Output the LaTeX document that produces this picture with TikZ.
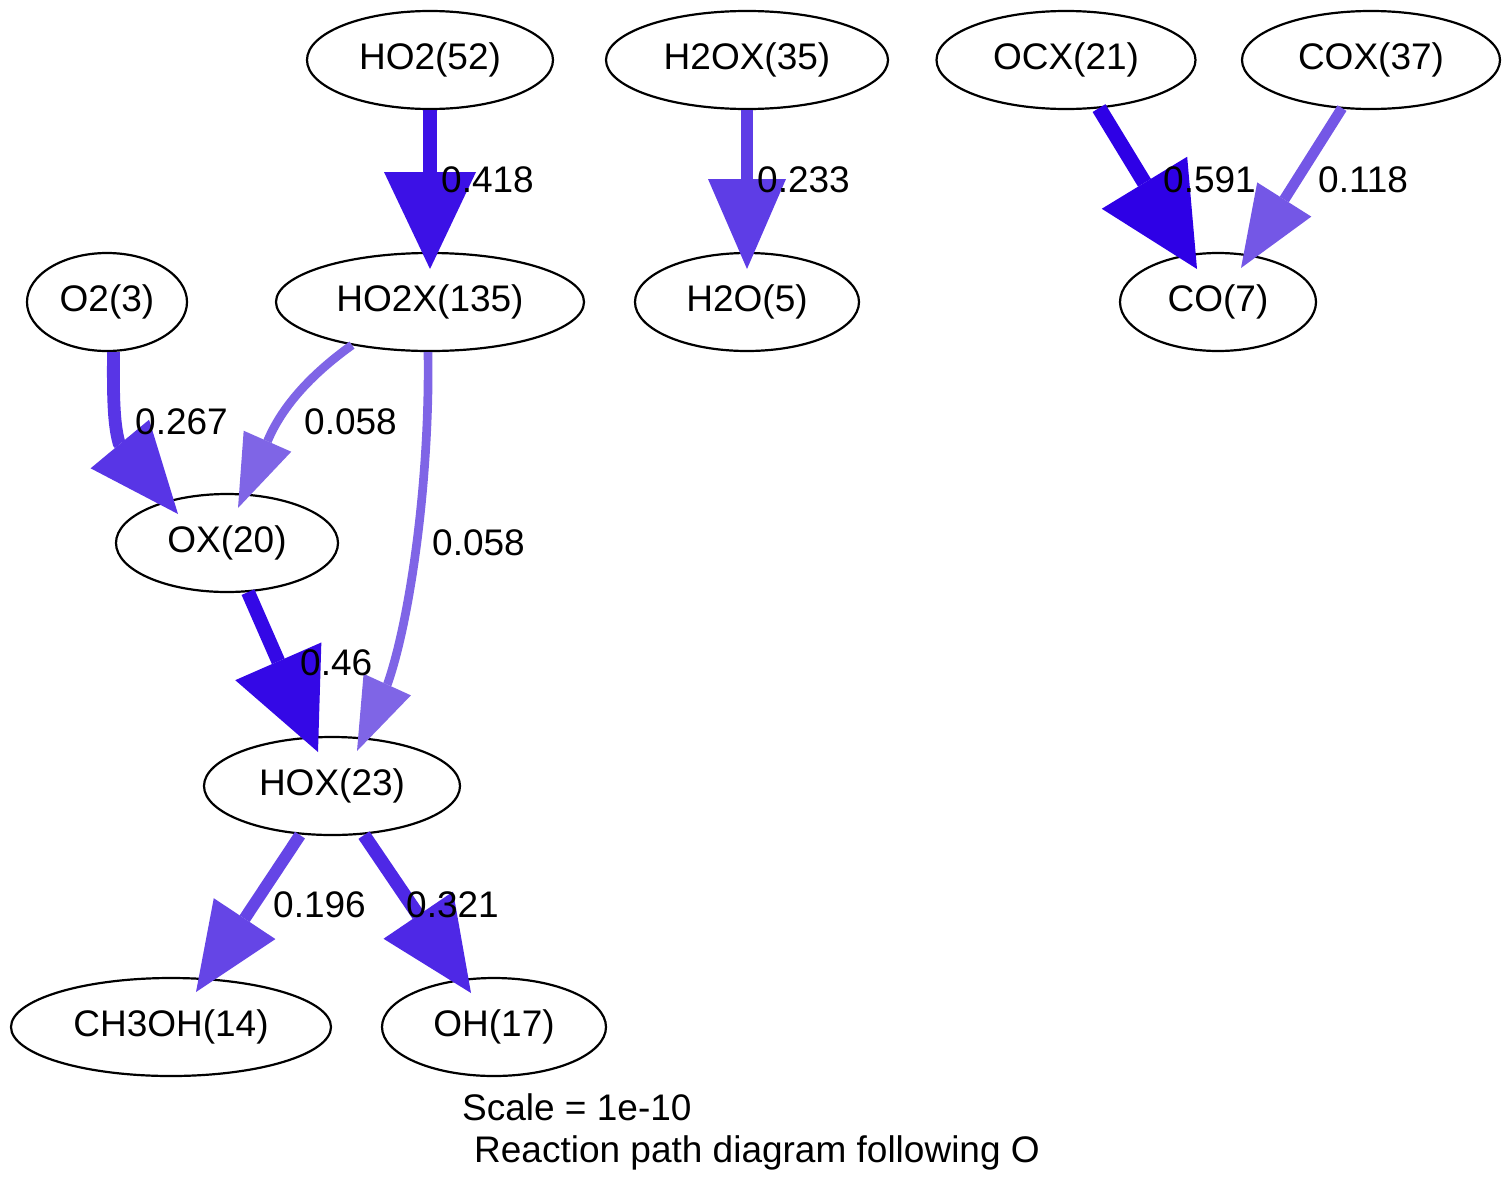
\documentclass[tikz,border=0pt]{standalone}
\usepackage{fontspec}
\setmainfont{Liberation Sans}
\usetikzlibrary{arrows.meta,shapes.geometric}
\definecolor{cA}{RGB}{46,0,230}
\definecolor{cB}{RGB}{52,8,230}
\definecolor{cC}{RGB}{60,17,230}
\definecolor{cD}{RGB}{78,40,230}
\definecolor{cE}{RGB}{88,53,230}
\definecolor{cF}{RGB}{94,61,230}
\definecolor{cG}{RGB}{101,69,230}
\definecolor{cH}{RGB}{116,87,230}
\definecolor{cI}{RGB}{127,101,230}
\begin{document}
\begin{tikzpicture}[x=1pt,y=-1pt,
  nd/.style={draw, ellipse, line width=2.2pt, minimum height=98pt, inner sep=0pt, font=\fontsize{37}{44}\selectfont},
  lbl/.style={anchor=west, inner sep=0pt, font=\fontsize{37}{44}\selectfont},
  flux/.style={line cap=butt}]
\useasboundingbox (0,0) rectangle (1511,1194);
% nodes
\node[nd, minimum width=246pt] (ho2)  at (430,60)  {HO2(52)};
\node[nd, minimum width=282pt] (h2ox) at (747,60)  {H2OX(35)};
\node[nd, minimum width=259pt] (ocx)  at (1066,60) {OCX(21)};
\node[nd, minimum width=258pt] (cox)  at (1371,60) {COX(37)};
\node[nd, minimum width=160pt] (o2)   at (107,302) {O2(3)};
\node[nd, minimum width=308pt] (ho2x) at (430,302) {HO2X(135)};
\node[nd, minimum width=224pt] (h2o)  at (747,302) {H2O(5)};
\node[nd, minimum width=196pt] (co)   at (1218,302) {CO(7)};
\node[nd, minimum width=222pt] (ox)   at (227,543) {OX(20)};
\node[nd, minimum width=256pt] (hox)  at (332,786) {HOX(23)};
\node[nd, minimum width=320pt] (ch3oh) at (171,1027) {CH3OH(14)};
\node[nd, minimum width=224pt] (oh)   at (494,1027) {OH(17)};
% edges
\draw[flux, cC, line width=14pt, -{Triangle[length=97pt,width=92pt,line width=0pt]}]
  (ho2.south) -- ([yshift=33pt]ho2x.center);
\draw[flux, cF, line width=12.5pt, -{Triangle[length=90pt,width=78pt,line width=0pt]}]
  (h2ox.south) -- ([yshift=33pt]h2o.center);
\draw[flux, cA, line width=15pt, -{Triangle[length=101pt,width=100pt,line width=0pt]}]
  ([xshift=33pt,yshift=2pt]ocx.south) -- ([xshift=-21pt,yshift=33pt]co.center);
\draw[flux, cH, line width=10.6pt, -{Triangle[length=81pt,width=64pt,line width=0pt]}]
  ([xshift=-29pt,yshift=2pt]cox.south) -- ([xshift=23pt,yshift=34pt]co.center);
\draw[flux, cE, line width=12.8pt, -{Triangle[length=91pt,width=76pt,line width=0pt]}]
  ([xshift=6.5pt]o2.south) .. controls (113,400) and (114,425) .. (119,443)
  -- ([xshift=-49pt,yshift=29pt]ox.center);
\draw[flux, cI, line width=8.7pt, -{Triangle[length=73pt,width=52pt,line width=0pt]}]
  ([xshift=-78pt,yshift=7pt]ho2x.south) .. controls (320,368) and (285,400) .. (268,440)
  -- ([xshift=11pt,yshift=35pt]ox.center);
\draw[flux, cI, line width=8.7pt, -{Triangle[length=73pt,width=52pt,line width=0pt]}]
  ([xshift=-2pt]ho2x.south) .. controls (430,480) and (410,620) .. (387.5,684)
  -- ([xshift=25pt,yshift=35pt]hox.center);
\draw[flux, cB, line width=14pt, -{Triangle[length=99pt,width=94pt,line width=0pt]}]
  ([xshift=21pt,yshift=1pt]ox.south) -- ([xshift=-14pt,yshift=34pt]hox.center);
\draw[flux, cG, line width=12pt, -{Triangle[length=88pt,width=74pt,line width=0pt]}]
  ([xshift=-32pt,yshift=1pt]hox.south) -- ([xshift=25pt,yshift=35pt]ch3oh.center);
\draw[flux, cD, line width=13.4pt, -{Triangle[length=94pt,width=84pt,line width=0pt]}]
  ([xshift=32pt,yshift=1pt]hox.south) -- ([xshift=-23pt,yshift=34pt]oh.center);
% labels
\node[lbl] (l1) at (441,180) {0.418};
\node[lbl] (l2) at (757,180) {0.233};
\node[lbl] (l3) at (1163,180) {0.591};
\node[lbl] (l4) at (1318,180) {0.118};
\node[lbl] (l5) at (135,422) {0.267};
\node[lbl] (l6) at (304,422) {0.058};
\node[lbl] (l7) at (432,543) {0.058};
\node[lbl] (l8) at (300,663) {0.46};
\node[lbl] (l9) at (273,905) {0.196};
\node[lbl] (l10) at (406,905) {0.321};
\node[lbl, anchor=base west] (sc) at (462,1120) {Scale = 1e-10};
\node[lbl, anchor=base west] (ti) at (474,1162) {Reaction path diagram following O};
\end{tikzpicture}
\end{document}
